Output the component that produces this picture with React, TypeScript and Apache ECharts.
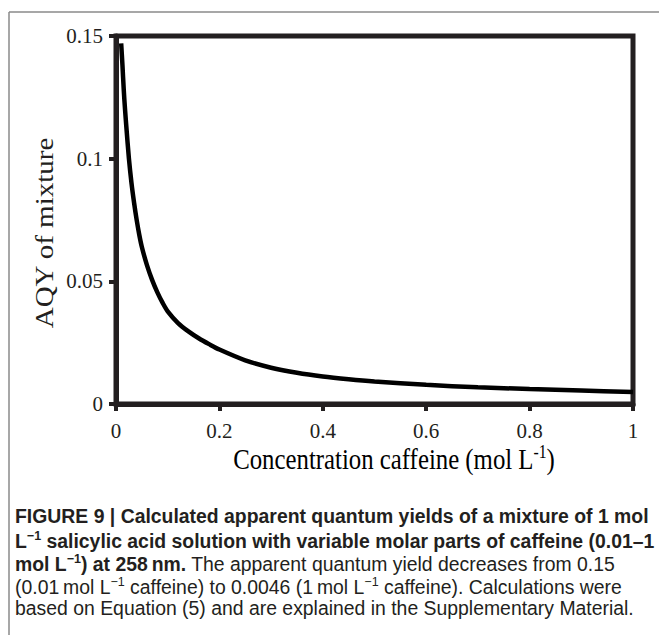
import React, { useEffect, useRef } from "react";
import * as echarts from "echarts";

const concentration = [0.01, 0.0125, 0.015, 0.0175, 0.02, 0.025, 0.03, 0.035, 0.04, 0.045, 0.05, 0.06, 0.07, 0.08, 0.09, 0.1, 0.12, 0.14, 0.16, 0.18, 0.2, 0.25, 0.3, 0.35, 0.4, 0.45, 0.5, 0.6, 0.7, 0.8, 0.9, 1.0];
const aqy = [0.147, 0.138, 0.128, 0.12, 0.113, 0.1, 0.09, 0.082, 0.075, 0.069, 0.064, 0.0565, 0.0505, 0.0455, 0.0413, 0.0378, 0.033, 0.0296, 0.0268, 0.0244, 0.0222, 0.0178, 0.0148, 0.0127, 0.0112, 0.0101, 0.0092, 0.0078, 0.0068, 0.0061, 0.0055, 0.0049];
const xTicks = { min: 0, max: 1, interval: 0.2 };
const yTicks = { min: 0, max: 0.15, interval: 0.05 };

const SERIF = "'Liberation Serif', 'Times New Roman', serif";
const SANS = "'Liberation Sans', Arial, sans-serif";
const INK = "#231f20";

export default function App() {
  const ref = useRef<HTMLDivElement>(null);
  useEffect(() => {
    if (!ref.current) return;
    const chart = echarts.init(ref.current, undefined, { renderer: "svg" });
    const data = concentration.map((c, i) => [c, aqy[i]]);
    const capRich = {
      b: { fontFamily: SANS, fontWeight: "bold", fontSize: 19.4, color: INK, lineHeight: 24 },
      bs: { fontFamily: SANS, fontWeight: "bold", fontSize: 12.5, color: INK, lineHeight: 14, verticalAlign: "top" },
      n: { fontFamily: SANS, fontSize: 19.4, color: "#333", lineHeight: 24 },
      ns: { fontFamily: SANS, fontSize: 12.5, color: "#333", lineHeight: 14, verticalAlign: "top" },
    } as any;
    const capX = 15;
    const capLine = (y: number, text: string) => ({
      type: "text",
      left: capX,
      top: y - 12,
      style: { text, rich: capRich, fill: INK },
    });
    chart.setOption({
      animation: false,
      backgroundColor: "#fff",
      grid: { left: 116, right: 26, top: 36, bottom: 231, show: true, borderColor: INK, borderWidth: 5, backgroundColor: "transparent" },
      xAxis: {
        type: "value",
        min: xTicks.min,
        max: xTicks.max,
        interval: xTicks.interval,
        axisLine: { show: true, lineStyle: { color: INK, width: 5 } },
        axisTick: { show: true, length: 7, lineStyle: { color: INK, width: 4 } },
        axisLabel: { fontFamily: SERIF, fontSize: 21, color: INK, margin: 16 },
        splitLine: { show: false },
      },
      yAxis: {
        type: "value",
        min: yTicks.min,
        max: yTicks.max,
        interval: yTicks.interval,
        axisLine: { show: true, lineStyle: { color: INK, width: 5 } },
        axisTick: { show: true, length: 7, lineStyle: { color: INK, width: 4 } },
        axisLabel: { fontFamily: SERIF, fontSize: 21, color: INK, margin: 13 },
        splitLine: { show: false },
      },
      series: [
        {
          type: "line",
          data,
          smooth: 0.3,
          showSymbol: false,
          lineStyle: { color: "#000", width: 4.5 },
        },
      ],
      graphic: [
        { type: "line", shape: { x1: 9, y1: 12, x2: 659, y2: 12 }, style: { stroke: "#8a8a8a", lineWidth: 1.5 } },
        { type: "line", shape: { x1: 9, y1: 12, x2: 9, y2: 635 }, style: { stroke: "#8a8a8a", lineWidth: 1.5 } },
        {
          type: "text",
          x: 45,
          y: 233,
          rotation: Math.PI / 2,
          scaleY: 0.85,
          style: { text: "AQY of mixture", font: `29px ${SERIF}`, fill: INK, align: "center", verticalAlign: "middle" },
        },
        {
          type: "text",
          x: 394,
          y: 459,
          scaleX: 0.87,
          style: {
            text: "{t|Concentration caffeine (mol L}{s|-1}{t|)}",
            align: "center",
            verticalAlign: "middle",
            rich: {
              t: { fontFamily: SERIF, fontSize: 28.5, color: INK, lineHeight: 32 },
              s: { fontFamily: SERIF, fontSize: 18, color: INK, lineHeight: 18, verticalAlign: "top" },
            },
          },
        },
        capLine(518, "{b|FIGURE 9 | Calculated apparent quantum yields of a mixture of 1 mol}"),
        capLine(541, "{b|L}{bs|\u22121}{b| salicylic acid solution with variable molar parts of caffeine (0.01\u20131}"),
        capLine(564, "{b|mol L}{bs|\u22121}{b|) at 258\u2009nm.}{n| The apparent quantum yield decreases from 0.15}"),
        capLine(587, "{n|(0.01\u2009mol L}{ns|\u22121}{n| caffeine) to 0.0046 (1\u2009mol L}{ns|\u22121}{n| caffeine). Calculations were}"),
        capLine(610, "{n|based on Equation (5) and are explained in the Supplementary Material.}"),
      ],
    });
    return () => chart.dispose();
  }, []);
  return <div ref={ref} style={{ position: "fixed", left: 0, top: 0, width: 659, height: 635 }} />;
}
